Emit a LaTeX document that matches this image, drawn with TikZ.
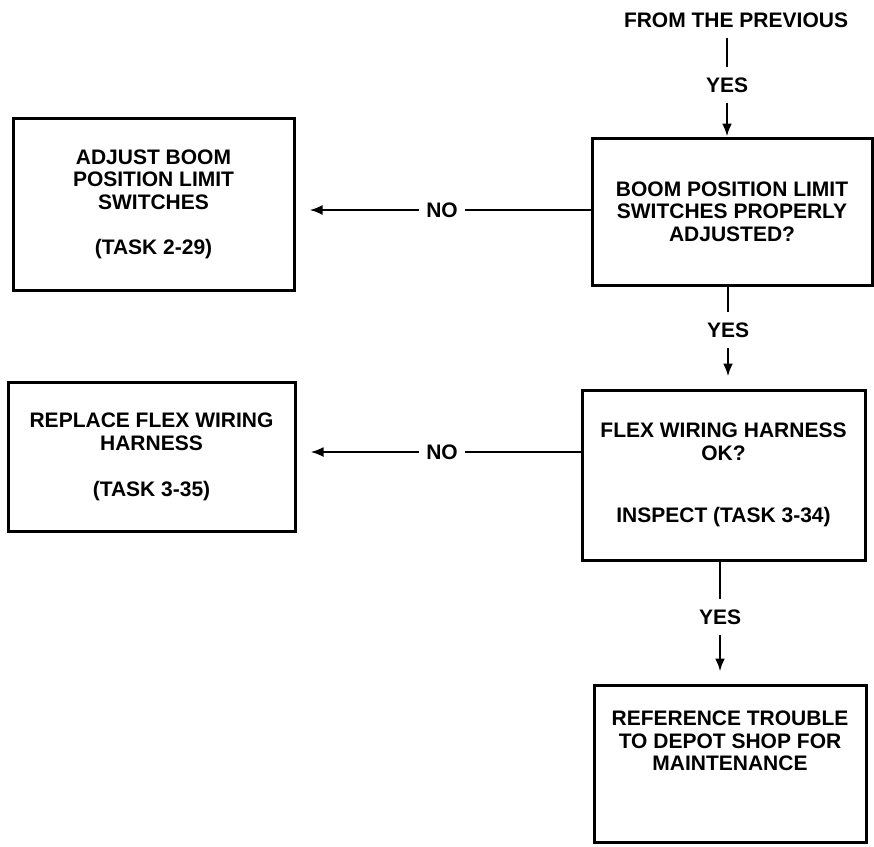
\documentclass[tikz,border=0pt]{standalone}
\usepackage{fontspec}
\setmainfont{Liberation Sans}
\usetikzlibrary{arrows.meta,positioning}

\begin{document}
\begin{tikzpicture}[x=1pt, y=-1pt,
    box/.style 2 args={draw, line width=3pt, minimum width=#1pt, minimum height=#2pt, inner sep=0pt, align=center, font=\fontsize{21}{22.5}\selectfont\bfseries},
    lbl/.style={inner xsep=7pt, inner ysep=10pt, font=\fontsize{21}{22.5}\selectfont\bfseries},
    con/.style={line width=2.5pt},
    arr/.style={-{Latex[length=13pt,width=10pt]}},
]
\useasboundingbox (0,0) rectangle (874,846);

\node[lbl] (prev) at (736,20) {FROM THE PREVIOUS};
\node[lbl] (yesA) at (727,85) {YES};
\node[box={280}{147}] (cond1) at (732,211.5) {BOOM POSITION LIMIT\\SWITCHES PROPERLY\\ADJUSTED?};
\node[box={281}{172}] (adjust) at (153.5,204) {ADJUST BOOM\\POSITION LIMIT\\SWITCHES\\[22.5pt](TASK 2-29)};
\node[lbl] (noA) at (442,210) {NO};

\node[lbl] (yesB) at (728,330) {YES};
\node[box={283}{170}] (cond2) at (723.5,475) {FLEX WIRING HARNESS\\OK?\\[40pt]INSPECT (TASK 3-34)};
\node[box={287}{149}] (replace) at (151.5,457) {REPLACE FLEX WIRING\\HARNESS\\[24pt](TASK 3-35)};
\node[lbl] (noB) at (442,452) {NO};

\node[lbl] (yesC) at (720,617) {YES};
\node[box={272}{157}, text depth=45pt] (refer) at (730,763.5) {REFERENCE TROUBLE\\TO DEPOT SHOP FOR\\MAINTENANCE};

\draw[con] (yesA) -- (yesA |- prev.south);
\draw[con, arr] (yesA) -- (yesA |- cond1.north);
\draw[con] (cond1.west |- noA) -- (noA);
\draw[con, arr, shorten >=14pt] (noA) -- (noA -| adjust.east);

\draw[con] (cond1.south -| yesB) -- (yesB);
\draw[con, arr, shorten >=12pt] (yesB) -- (yesB |- cond2.north);
\draw[con] (cond2.west |- noB) -- (noB);
\draw[con, arr, shorten >=14pt] (noB) -- (noB -| replace.east);

\draw[con] (cond2.south -| yesC) -- (yesC);
\draw[con, arr, shorten >=12pt] (yesC) -- (yesC |- refer.north);
\end{tikzpicture}
\end{document}
